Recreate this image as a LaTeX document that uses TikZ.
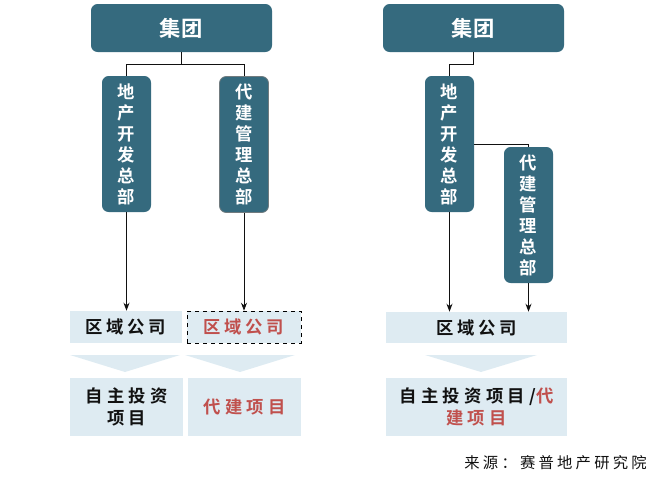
\documentclass[tikz,border=0pt]{standalone}
\usepackage{fontspec}
\setmainfont{Noto Sans CJK SC}[BoldFont={Noto Sans CJK SC Bold}]
\usetikzlibrary{arrows.meta,positioning}
\definecolor{hq}{HTML}{356A7E}
\definecolor{pale}{HTML}{DEEBF2}
\definecolor{redtxt}{HTML}{C0504D}
\definecolor{ink}{HTML}{111111}
\tikzset{
  >={Stealth[length=6pt,width=4.5pt]},
  every node/.style={text=ink,inner sep=0pt,align=center},
  hqbox/.style={fill=hq,rounded corners=5pt,text=white,minimum width=135.75pt,minimum height=36pt,
    font=\fontsize{16}{18}\selectfont\bfseries\addfontfeature{LetterSpace=3}},
  deptbox/.style={fill=hq,rounded corners=5pt,text=white,minimum width=36.75pt,minimum height=102pt,
    font=\fontsize{13}{15.75}\selectfont\bfseries},
  regbox/.style={fill=pale,minimum width=84pt,minimum height=24pt,
    font=\fontsize{13}{15}\selectfont\bfseries\addfontfeature{LetterSpace=21}},
  dashbox/.style={regbox,draw=black,dashed,text=redtxt},
  projbox/.style={fill=pale,minimum width=84.75pt,minimum height=43.5pt,
    font=\fontsize{13}{17}\selectfont\bfseries\addfontfeature{LetterSpace=25}},
  chevron/.style={fill=pale},
  link/.style={draw=ink,line width=0.7pt},
  arrow/.style={->,link},
  source/.style={font=\fontsize{11.5}{13}\selectfont\addfontfeature{LetterSpace=21},anchor=east},
}

\begin{document}
\begin{tikzpicture}[x=0.75pt,y=-0.75pt]
\useasboundingbox (0,0) rectangle (661,483);

% left: parallel headquarters
\node[hqbox] (grpL) at (181.5,28) {集团};
\node[deptbox] (devL) at (126.5,144) {地\\产\\开\\发\\总\\部};
\node[deptbox,draw=gray!80!hq,line width=0.6pt] (agtL) at (244,144.5) {代\\建\\管\\理\\总\\部};
\node[regbox] (regL) at (126,327) {区域公司};
\node[dashbox,minimum width=85.5pt] (regA) at (244,327) {区域公司};
\node[projbox] (ownL) at (126.5,407) {自主投资\\项目};
\node[projbox,text=redtxt] (agtP) at (244.5,407) {代建项目};

\draw[link] (grpL.south) -- ++(0,12) coordinate (forkL) -| (devL.north);
\draw[link] (forkL) -| (agtL.north);
\draw[arrow] (devL.south) -- (devL.south |- regL.north);
\draw[arrow] (agtL.south) -- (agtL.south |- regA.north);
\fill[chevron] (70,355) -- (180,355) -- (125,372) -- cycle;
\fill[chevron] (185,355) -- (295,355) -- (240,372) -- cycle;

% right: agency under development
\node[hqbox] (grpR) at (473.5,28) {集团};
\node[deptbox] (devR) at (449.5,144) {地\\产\\开\\发\\总\\部};
\node[deptbox] (agtR) at (528.5,215) {代\\建\\管\\理\\总\\部};
\node[regbox,minimum width=135.75pt,minimum height=23.25pt] (regR) at (476.5,327.5) {区域公司};
\node[projbox,minimum width=135.75pt] (mixR) at (476.5,407) {自主投资项目/\textcolor{redtxt}{代}\\\textcolor{redtxt}{建项目}};

\draw[link] (grpR.south) -- ++(0,12) -| (devR.north);
\draw[link] (devR.east) -| (agtR.north);
\draw[arrow] (devR.south) -- (devR.south |- regR.north);
\draw[arrow] (agtR.south) -- (agtR.south |- regR.north);
\fill[chevron] (425,355) -- (537,355) -- (481,372) -- cycle;

\node[source] (src) at (647,463) {来源：赛普地产研究院};
\end{tikzpicture}
\end{document}
